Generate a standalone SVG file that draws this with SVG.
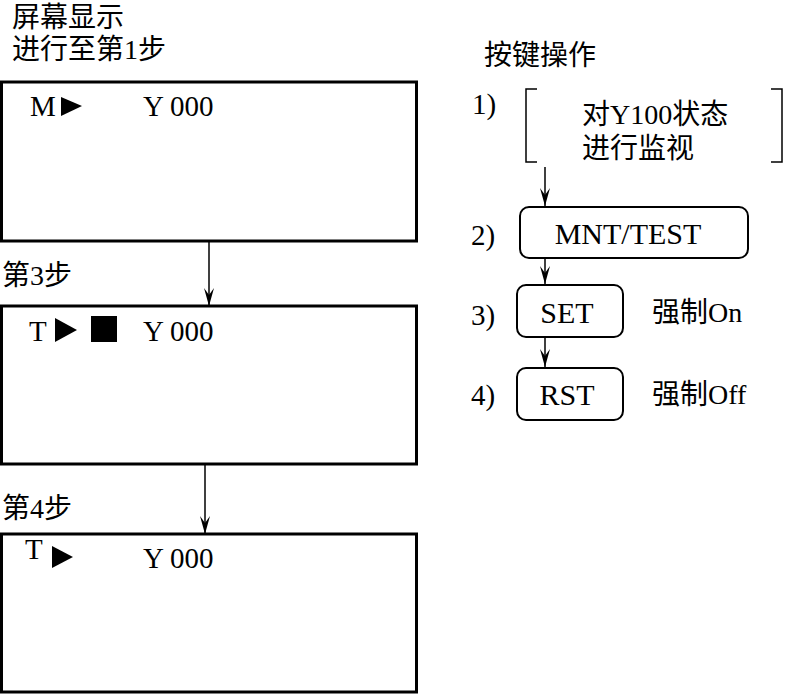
<svg xmlns="http://www.w3.org/2000/svg" width="792" height="694" viewBox="0 0 792 694">
<defs>
<style>
.zh{font-family:"Liberation Serif","Noto Sans CJK SC",serif;font-size:28px;fill:#000}
.en{font-family:"Liberation Serif","Times New Roman",serif;font-size:29px;fill:#000}
.k{font-family:"Liberation Serif","Times New Roman",serif;font-size:30px;fill:#000}
.box{fill:#fff;stroke:#000;stroke-width:3}
.key{fill:#fff;stroke:#000;stroke-width:2}
.ln{stroke:#000;stroke-width:1.5;fill:none}
</style>
<marker id="ah" markerWidth="18" markerHeight="10" refX="18" refY="5" orient="auto" markerUnits="userSpaceOnUse" viewBox="0 0 18 10">
<path d="M0,0 L18,5 L0,10 L7,5 Z" fill="#000"/>
</marker>
</defs>
<rect width="792" height="694" fill="#fff"/>

<g id="title-left">
<text class="zh" x="12" y="27">屏幕显示</text>
<text class="zh" x="12" y="59">进行至第1步</text>
</g>

<g id="screen1">
<rect class="box" x="1.5" y="82" width="415" height="159"/>
<text class="en" x="30" y="116">M</text>
<polygon points="61,97 82,106 61,116"/>
<text class="en" x="143" y="116">Y 000</text>
</g>

<g id="step3label"><text class="zh" x="2" y="285">第3步</text></g>

<g id="screen2">
<rect class="box" x="1.5" y="306" width="415" height="158"/>
<text class="en" x="29" y="341">T</text>
<polygon points="55,318 77,330 55,342"/>
<rect x="91" y="316" width="26" height="26"/>
<text class="en" x="143" y="341">Y 000</text>
</g>

<g id="step4label"><text class="zh" x="2" y="518">第4步</text></g>

<g id="screen3">
<rect class="box" x="1.5" y="534" width="415" height="158"/>
<text class="en" x="25" y="559">T</text>
<polygon points="52,546 73,557 52,568"/>
<text class="en" x="143" y="568">Y 000</text>
</g>

<g id="title-right"><text class="zh" x="484" y="65">按键操作</text></g>

<g id="step1">
<text class="en" x="472" y="114">1)</text>
<path class="ln" d="M537,89 H526 V162 H537" stroke-width="2"/>
<path class="ln" d="M771,89 H782 V162 H771" stroke-width="2"/>
<text class="zh" x="582" y="124">对Y100状态</text>
<text class="zh" x="582" y="158">进行监视</text>
</g>

<g id="step2">
<text class="en" x="471" y="245">2)</text>
<rect class="key" x="520" y="207" width="228" height="51" rx="9"/>
<text class="k" x="628" y="244" text-anchor="middle">MNT/TEST</text>
</g>

<g id="step3">
<text class="en" x="471" y="325">3)</text>
<rect class="key" x="517" y="285" width="106" height="52" rx="9"/>
<text class="k" x="567" y="323" text-anchor="middle">SET</text>
<text class="zh" x="652" y="322">强制On</text>
</g>

<g id="step4">
<text class="en" x="471" y="405">4)</text>
<rect class="key" x="517" y="368" width="106" height="52" rx="9"/>
<text class="k" x="567" y="405" text-anchor="middle">RST</text>
<text class="zh" x="652" y="404">强制Off</text>
</g>

<g id="connectors">
<line class="ln" x1="209" y1="241" x2="209" y2="306" marker-end="url(#ah)"/>
<line class="ln" x1="205" y1="464" x2="205" y2="534" marker-end="url(#ah)"/>
<line class="ln" x1="545" y1="167" x2="545" y2="206" marker-end="url(#ah)"/>
<line class="ln" x1="545" y1="258" x2="545" y2="284" marker-end="url(#ah)"/>
<line class="ln" x1="545" y1="337" x2="545" y2="367" marker-end="url(#ah)"/>
</g>
</svg>
